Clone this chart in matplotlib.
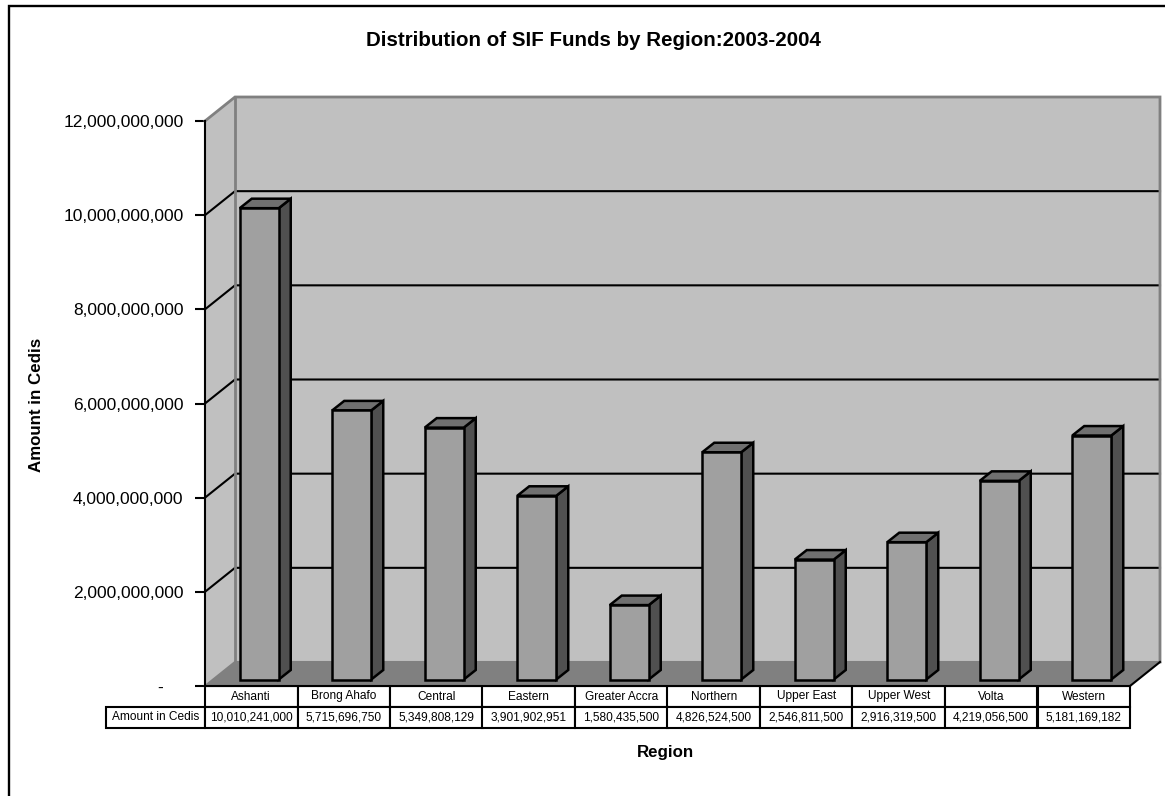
import matplotlib
matplotlib.use('Agg')
import matplotlib.pyplot as plt
from matplotlib.lines import Line2D

plt.rcParams['font.family'] = ['Liberation Sans', 'DejaVu Sans']

regions = ['Ashanti', 'Brong Ahafo', 'Central', 'Eastern', 'Greater Accra',
           'Northern', 'Upper East', 'Upper West', 'Volta', 'Western']
amounts = [10010241000, 5715696750, 5349808129, 3901902951, 1580435500,
           4826524500, 2546811500, 2916319500, 4219056500, 5181169182]
y_ticks = [0, 2000000000, 4000000000, 6000000000, 8000000000, 10000000000, 12000000000]

W, H = 1165, 796
# front plane of the fake 3d box in pixels
L, R, B, T = 205, 1130, 686, 121
px_x = 10 / (R - L)
px_y = 12e9 / (B - T)
DX = 30 * px_x
DY = 24 * px_y
WALL = '#c0c0c0'
FLOOR = '#808080'
EDGE = '#808080'

fig = plt.figure(figsize=(W / 100, H / 100), dpi=100)
ax = fig.add_axes([L / W, 1 - B / H, (R - L) / W, (B - T) / H])
ax.set_xlim(-0.5, 9.5)
ax.set_ylim(0, 12e9)
ax.patch.set_visible(False)

x0, x1 = -0.5, 9.5
top = 12e9
# walls and floor
ax.fill([x0 + DX, x1 + DX, x1 + DX, x0 + DX], [DY, DY, top + DY, top + DY], fc=WALL, ec='none', zorder=1, clip_on=False)
ax.fill([x0, x0 + DX, x0 + DX, x0], [0, DY, top + DY, top], fc=WALL, ec='none', zorder=1, clip_on=False)
ax.fill([x0, x1, x1 + DX, x0 + DX], [0, 0, DY, DY], fc=FLOOR, ec='none', zorder=1, clip_on=False)

# gridlines on back wall and left wall
for t in y_ticks[1:-1]:
    ax.plot([x0, x0 + DX, x1 + DX], [t, t + DY, t + DY], color='k', lw=1.5, zorder=2, clip_on=False, solid_joinstyle='miter')
# grey box edges
ax.plot([x0, x0 + DX, x1 + DX, x1 + DX], [top, top + DY, top + DY, DY], color=EDGE, lw=2, zorder=2, clip_on=False, solid_joinstyle='miter')
ax.plot([x0, x0 + DX, x1 + DX], [0, DY, DY], color=EDGE, lw=1.5, zorder=2, clip_on=False)
ax.plot([x0 + DX, x0 + DX], [DY, top + DY], color=EDGE, lw=2, zorder=2, clip_on=False)
ax.plot([x1, x1 + DX], [0, DY], color='k', lw=1.5, zorder=2, clip_on=False)

# bars, sitting a little way back from the front plane
hw = 19.5 * px_x
fx, fy = 8 * px_x, 6.5 * px_y
bx, by = 12 * px_x, 9.5 * px_y
for i, v in enumerate(amounts):
    c = i + fx
    ax.bar(c, v, width=2 * hw, bottom=fy, color='#a0a0a0', edgecolor='k', lw=1.8, zorder=4, clip_on=False)
    ax.fill([c + hw, c + hw + bx, c + hw + bx, c + hw],
            [fy, fy + by, fy + v + by, fy + v], fc='#505050', ec='k', lw=1.8, zorder=3, clip_on=False)
    ax.fill([c - hw, c + hw, c + hw + bx, c - hw + bx],
            [fy + v, fy + v, fy + v + by, fy + v + by], fc='#707070', ec='k', lw=1.8, zorder=3, clip_on=False)

ax.set_yticks(y_ticks)
# accounting format in the original, the dash sits away from the axis
ax.set_yticklabels(['-    ' if t == 0 else format(t, ',d') for t in y_ticks], fontsize=12.5)
ax.tick_params(axis='y', length=7.5, width=1.5, pad=8, color='k')
ax.set_xticks([])
for s in ['top', 'right']:
    ax.spines[s].set_visible(False)
for s in ['left', 'bottom']:
    ax.spines[s].set_linewidth(1.5)
    ax.spines[s].set_zorder(6)

# data table under the axis
rows = [[''] + regions, ['Amount in Cedis'] + [format(a, ',d') for a in amounts]]
tx0 = (106 - L) / (R - L)
tw = (R - 106) / (R - L)
th = (728 - B) / (B - T)
tab = ax.table(cellText=rows, cellLoc='center', colWidths=[99 / 1024] + [92.5 / 1024] * 10,
               bbox=[tx0, -th, tw, th])
tab.auto_set_font_size(False)
tab.set_fontsize(8.6)
for (r, c), cell in tab.get_celld().items():
    cell.set_linewidth(1.5)
    cell.PAD = 0.01
    if r == 0 and c == 0:
        cell.set_visible(False)

fig.text(593 / W, 1 - 40 / H, 'Distribution of SIF Funds by Region:2003-2004',
         ha='center', va='center', fontsize=14.8, fontweight='bold')
fig.text(665.5 / W, 1 - 753 / H, 'Region', ha='center', va='center', fontsize=12.2, fontweight='bold')
fig.text(37 / W, 1 - 405 / H, 'Amount in Cedis', ha='center', va='center', rotation=90,
         fontsize=12.2, fontweight='bold')

# outer chart frame, only top and left fall inside the image
fig.add_artist(Line2D([8.5 / W, 8.5 / W, 1.01], [-0.01, 1 - 5.5 / H, 1 - 5.5 / H], transform=fig.transFigure,
                      color='k', lw=1.7, solid_joinstyle='miter'))

fig.savefig('out.png', dpi=100)
